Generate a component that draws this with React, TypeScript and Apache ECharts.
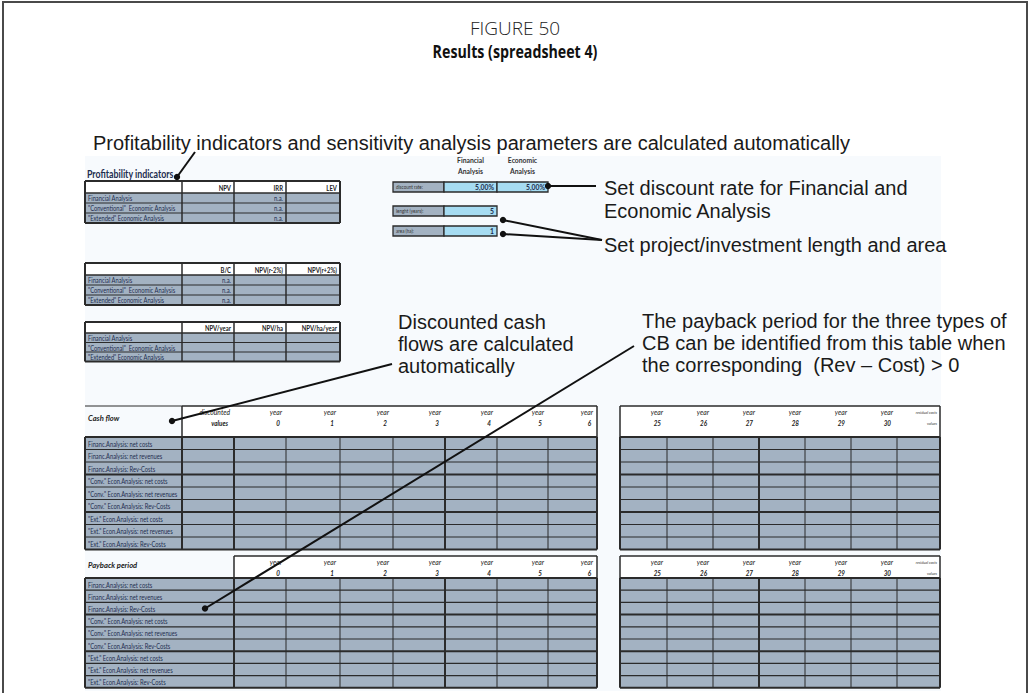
import React, { useEffect, useRef } from "react";
import * as echarts from "echarts";

const figureLabel = "FIGURE 50";
const figureTitle = "Results (spreadsheet 4)";
const noteTop = "Profitability indicators and sensitivity analysis parameters are calculated automatically";
const noteDiscount = ["Set discount rate for Financial and", "Economic Analysis"];
const noteLength = "Set project/investment length and area";
const noteCash = ["Discounted cash", "flows are calculated", "automatically"];
const notePayback = ["The payback period for the three types of", "CB can be identified from this table when", "the corresponding  (Rev \u2013 Cost) > 0"];

const analysisTypes = ["Financial Analysis", "\"Conventional\"  Economic Analysis", "\"Extended\" Economic Analysis"];
const indicatorHeaders1 = ["NPV", "IRR", "LEV"];
const indicatorValues1 = [["", "n.a.", ""], ["", "n.a.", ""], ["", "n.a.", ""]];
const indicatorHeaders2 = ["B/C", "NPV(r-2%)", "NPV(r+2%)"];
const indicatorValues2 = [["n.a.", "", ""], ["n.a.", "", ""], ["n.a.", "", ""]];
const indicatorHeaders3 = ["NPV/year", "NPV/ha", "NPV/ha/year"];
const indicatorValues3 = [["", "", ""], ["", "", ""], ["", "", ""]];

const inputHeaders = [["Financial", "Analysis"], ["Economic", "Analysis"]];
const inputLabels = ["discount rate:", "lenght (years):", "area (ha):"];
const discountRates = ["5,00%", "5,00%"];
const projectLength = "5";
const projectArea = "1";

const flowRows = [
  "Financ.Analysis: net costs",
  "Financ.Analysis: net revenues",
  "Financ.Analysis: Rev-Costs",
  "\"Conv.\" Econ.Analysis: net costs",
  "\"Conv.\" Econ.Analysis: net revenues",
  "\"Conv.\" Econ.Analysis: Rev-Costs",
  "\"Ext.\" Econ.Analysis: net costs",
  "\"Ext.\" Econ.Analysis: net revenues",
  "\"Ext.\" Econ.Analysis: Rev-Costs",
];
const earlyYears = ["0", "1", "2", "3", "4", "5", "6"];
const lateYears = ["25", "26", "27", "28", "29", "30"];
const yearWord = "year";
const residualHeader = ["residual costs", "values"];
const cashTitle = "Cash flow";
const discountedHeader = ["discounted", "values"];
const paybackTitle = "Payback period";
const profitTitle = "Profitability indicators";

export default function App() {
  const ref = useRef<HTMLDivElement>(null);
  useEffect(() => {
    const chart = echarts.init(ref.current!, null, { renderer: "svg" });
    const els: any[] = [];
    const GRID = "#2b2b2b";
    const CELL = "#a3b2c2";
    const NAVY = "#1d2d4f";
    const R = (x: number, y: number, w: number, h: number, fill: string, stroke = "none", lw = 0, z = 1) =>
      els.push({ type: "rect", z, silent: true, shape: { x, y, width: w, height: h }, style: { fill, stroke, lineWidth: lw } });
    const L = (x1: number, y1: number, x2: number, y2: number, lw = 1, stroke = GRID, z = 3) =>
      els.push({ type: "line", z, silent: true, shape: { x1, y1, x2, y2 }, style: { stroke, lineWidth: lw } });
    const T = (x: number, y: number, text: string, font: string, fill = "#222", align = "left", sx = 1, z = 6) =>
      els.push({
        type: "text", z, silent: true, x, y, scaleX: sx,
        style: { text, x: 0, y: 0, font, fill, align, verticalAlign: "middle", textAlign: align, textVerticalAlign: "middle" },
      });
    const D = (x: number, y: number) => els.push({ type: "circle", z: 8, silent: true, shape: { cx: x, cy: y, r: 3.2 }, style: { fill: "#111" } });

    const LBL = "8px Lato";
    const LBLX = 0.72;
    const HDR = "bold 7px Lato";
    const ANN = "20px 'Liberation Sans'";
    const ANNC = "#1a1a1a";

    // frame and panel
    R(3, 2, 1024, 720, "#ffffff", "#4a4a4a", 2, 0);
    R(85, 156, 856, 535, "#f7fafd", "none", 0, 0);

    // titles
    T(515, 28, figureLabel, "300 19px 'Open Sans'", "#222", "center", 1.0);
    T(515, 51, figureTitle, "bold 18px 'Open Sans'", "#111", "center", 0.79);

    // annotations
    T(93, 143, noteTop, ANN, ANNC, "left", 1.0);
    T(604, 188, noteDiscount[0], ANN, ANNC);
    T(604, 211, noteDiscount[1], ANN, ANNC);
    T(604, 245, noteLength, ANN, ANNC);
    noteCash.forEach((s, i) => T(398, 322 + i * 22, s, ANN, ANNC));
    notePayback.forEach((s, i) => T(642, 321 + i * 22, s, ANN, ANNC));

    // profitability title
    T(87, 174, profitTitle, "bold 11px Lato", "#1d2d4f", "left", 0.8);

    // indicator tables
    const tcols = [85, 182, 234, 286, 340];
    const indicatorTable = (top: number, hh: number, rh: number, headers: string[], values: string[][]) => {
      const hb = top + hh;
      const bottom = hb + rh * 3;
      R(tcols[0], top, tcols[4] - tcols[0], hh, "#ffffff");
      R(tcols[0], hb, tcols[4] - tcols[0], bottom - hb, CELL);
      headers.forEach((h, i) => T(tcols[i + 2] - 3, top + hh / 2 + 1, h, HDR, "#222", "right", 0.85));
      analysisTypes.forEach((a, r) => {
        T(88, hb + rh * r + rh / 2, a, LBL, NAVY, "left", LBLX);
        values[r].forEach((v, c) => { if (v) T(tcols[c + 2] - 3, hb + rh * r + rh / 2, v, "7px Lato", NAVY, "right", 0.85); });
      });
      for (let r = 1; r < 3; r++) L(tcols[0], hb + rh * r, tcols[4], hb + rh * r, 1);
      L(tcols[0], hb, tcols[4], hb, 1.5);
      L(tcols[0], top, tcols[4], top, 2);
      L(tcols[0], bottom, tcols[4], bottom, 2);
      tcols.forEach((x, i) => L(x, top, x, bottom, i === 0 || i === 4 ? 2 : 1.5));
    };
    indicatorTable(181, 12, 10, indicatorHeaders1, indicatorValues1);
    indicatorTable(263, 12, 10, indicatorHeaders2, indicatorValues2);
    indicatorTable(322, 11, 9.5, indicatorHeaders3, indicatorValues3);

    // inputs
    const ic = [393, 444, 497, 548];
    inputHeaders.forEach((h, i) => {
      const cx = (ic[i + 1] + ic[i + 2]) / 2;
      T(cx, 160, h[0], "bold 8px Lato", "#333", "center", 0.85);
      T(cx, 171, h[1], "bold 8px Lato", "#333", "center", 0.85);
    });
    const inputRow = (y: number, label: string, vals: string[]) => {
      const h = 10;
      R(ic[0], y, ic[1] - ic[0], h, CELL, GRID, 1.3);
      T(ic[0] + 3, y + h / 2, label, "5px Lato", "#333", "left", 0.9);
      vals.forEach((v, i) => {
        R(ic[i + 1], y, ic[i + 2] - ic[i + 1], h, "#a6dcf2", GRID, 1.3);
        T(ic[i + 2] - 3, y + h / 2, v, "bold 8px Lato", NAVY, "right", 0.85);
      });
    };
    inputRow(182, inputLabels[0], discountRates);
    inputRow(206, inputLabels[1], [projectLength]);
    inputRow(226, inputLabels[2], [projectArea]);

    // generic data grid
    const dataGrid = (xs: number[], top: number, rh: number, thickCols: number[]) => {
      const bottom = top + rh * flowRows.length;
      R(xs[0], top, xs[xs.length - 1] - xs[0], bottom - top, CELL);
      for (let r = 0; r <= flowRows.length; r++) {
        const y = top + rh * r;
        L(xs[0], y, xs[xs.length - 1], y, r % 3 === 0 ? 2 : 1.2);
      }
      xs.forEach((x, i) => L(x, top, x, bottom, thickCols.includes(i) || i === 0 || i === xs.length - 1 ? 2 : 1));
    };
    const header = (xs: number[], top: number, hb: number, heads: string[][], small: boolean[]) => {
      R(xs[0], top, xs[xs.length - 1] - xs[0], hb - top, "#ffffff");
      L(xs[0], top, xs[xs.length - 1], top, 1.5);
      L(xs[0], top, xs[0], hb, 1.5);
      L(xs[xs.length - 1], top, xs[xs.length - 1], hb, 1.5);
      heads.forEach((h, i) => {
        const right = xs[i + 1] - 4;
        if (small[i]) {
          T(right + 1, top + 6, h[0], "italic 4.5px Lato", "#333", "right", 0.85);
          T(right + 1, top + 17, h[1], "italic 4.5px Lato", "#333", "right", 0.85);
        } else {
          T(right, top + 6, h[0], "italic 7.5px Lato", "#222", "right", 0.9);
          T(right - 2, top + 17, h[1], "italic bold 7px Lato", "#222", "right", 0.9);
        }
      });
    };

    // cash flow table
    const cxs = [85, 182, 234, 286, 340, 393, 445, 497, 548, 597];
    const cTop = 406, cHb = 437, cRh = 12.5;
    const earlyHeads = earlyYears.map((y) => [yearWord, y]);
    const lateHeads = [...lateYears.map((y) => [yearWord, y]), residualHeader];
    const lateSmall = [...lateYears.map(() => false), true];
    header(cxs.slice(1), cTop, cHb, [discountedHeader, ...earlyHeads], [false, ...earlyYears.map(() => false)]);
    L(cxs[0], cTop, cxs[1], cTop, 1);
    T(88, cTop + 12, cashTitle, "italic bold 8px Lato", "#222", "left", 0.95);
    dataGrid(cxs, cHb, cRh, [1, 2, 6]);
    flowRows.forEach((s, r) => T(88, cHb + cRh * r + cRh / 2, s, LBL, NAVY, "left", LBLX));

    const rxs = [620, 667, 713, 759, 805, 851, 897, 940];
    header(rxs, cTop, cHb, lateHeads, lateSmall);
    dataGrid(rxs, cHb, cRh, [3]);

    // payback table
    const pxs = [85, 234, 286, 340, 393, 445, 497, 548, 597];
    const pTop = 556, pHb = 578, pRh = 12.2;
    header(pxs.slice(1), pTop, pHb, earlyHeads, earlyYears.map(() => false));
    T(88, pTop + 9, paybackTitle, "italic bold 8px Lato", "#222", "left", 0.95);
    dataGrid(pxs, pHb, pRh, [1, 5]);
    flowRows.forEach((s, r) => T(88, pHb + pRh * r + pRh / 2, s, LBL, NAVY, "left", LBLX));
    header(rxs, pTop, pHb, lateHeads, lateSmall);
    dataGrid(rxs, pHb, pRh, [3]);

    // pointer lines
    L(195, 152, 177, 177, 2, "#111", 7); D(177, 177);
    L(548, 186, 596, 186, 2, "#111", 7); D(548, 186);
    L(503, 220, 602, 240, 2, "#111", 7); D(503, 220);
    L(503, 234, 602, 240, 2, "#111", 7); D(503, 234);
    L(172, 421, 392, 364, 2, "#111", 7); D(172, 421);
    L(205, pHb + pRh * 2.5, 634, 346, 2, "#111", 7); D(205, pHb + pRh * 2.5);

    chart.setOption({ animation: false, graphic: { elements: els } });
    return () => chart.dispose();
  }, []);
  return <div ref={ref} style={{ width: 1031, height: 693, position: "absolute", left: 0, top: 0, background: "#fff" }} />;
}
